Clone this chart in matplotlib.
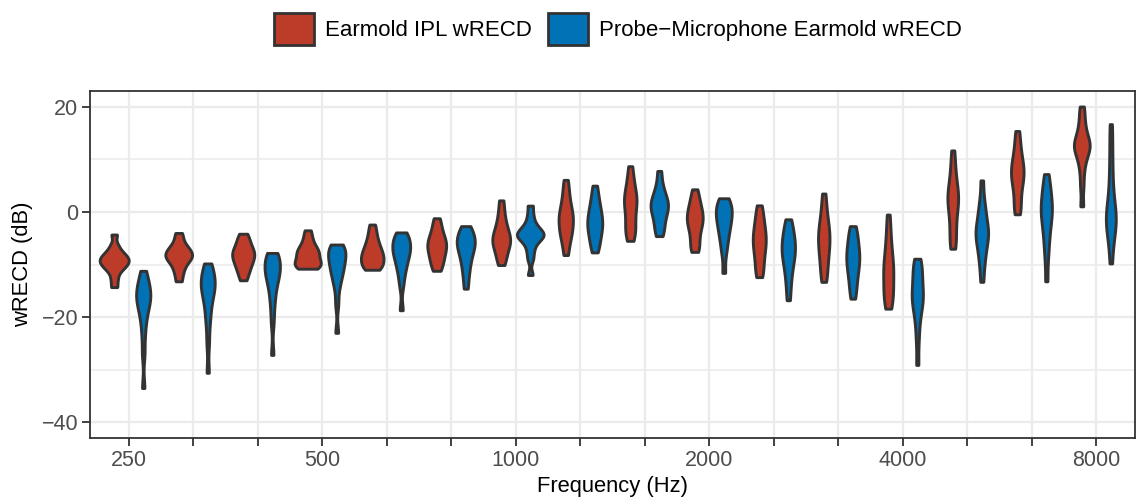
import numpy as np
import matplotlib
matplotlib.use("Agg")
import matplotlib.pyplot as plt
from matplotlib import cbook
from matplotlib.patches import Patch

plt.rcParams['font.family'] = ['Liberation Sans', 'DejaVu Sans']

frequencies = ["250", "315", "400", "500", "630", "800", "1000", "1250",
               "1600", "2000", "2500", "3150", "4000", "5000", "6300", "8000"]
labeled_ticks = ["250", "500", "1000", "2000", "4000", "8000"]
series_names = ["Earmold IPL wRECD", "Probe\u2212Microphone Earmold wRECD"]

# wRECD (dB) samples, one list per frequency
ipl_samples = [
    [-14.3, -12.8, -11.5, -10.8, -10.3, -10.0, -9.6, -9.3, -9.0, -8.7, -8.3, -7.9, -7.3, -6.3, -4.3],
    [-13.2, -11.8, -10.8, -10.0, -9.4, -9.0, -8.6, -8.3, -8.0, -7.6, -7.2, -6.8, -6.2, -5.2, -4.0],
    [-13.0, -11.8, -11.0, -10.3, -9.7, -9.2, -8.7, -8.3, -7.9, -7.5, -7.0, -6.5, -5.8, -5.0, -4.15],
    [-10.8, -10.6, -10.3, -10.0, -9.7, -9.3, -8.8, -8.3, -7.9, -7.5, -7.1, -6.6, -5.8, -4.8, -3.5],
    [-11.0, -10.7, -10.3, -9.8, -9.3, -8.9, -8.5, -8.1, -7.6, -7.1, -6.5, -5.8, -4.9, -3.8, -2.4],
    [-11.2, -10.3, -9.5, -8.8, -8.1, -7.5, -7.0, -6.5, -6.0, -5.5, -5.0, -4.3, -3.5, -2.4, -1.2],
    [-10.1, -9.0, -8.0, -7.2, -6.5, -6.0, -5.5, -5.0, -4.5, -3.9, -3.2, -2.3, -1.2, 0.3, 2.2],
    [-8.2, -6.5, -5.0, -4.3, -3.6, -2.8, -2.0, -1.4, -0.8, -0.2, 0.6, 1.6, 2.8, 4.3, 6.1],
    [-5.5, -4.5, -3.6, -2.8, -1.8, -0.6, 0.5, 1.3, 2.0, 2.6, 3.3, 4.2, 5.3, 6.8, 8.7],
    [-7.6, -6.8, -5.8, -4.5, -3.5, -2.7, -2.0, -1.5, -1.0, -0.4, 0.3, 1.0, 1.8, 2.9, 4.3],
    [-12.4, -11.5, -10.3, -9.0, -8.0, -7.1, -6.3, -5.6, -4.9, -4.2, -3.4, -2.5, -1.4, -0.2, 1.25],
    [-13.3, -12.0, -10.5, -9.2, -8.1, -7.1, -6.2, -5.4, -4.6, -3.8, -2.9, -1.9, -0.6, 1.2, 3.5],
    [-18.4, -17.6, -16.2, -15.4, -14.6, -13.3, -12.2, -11.2, -10.5, -9.6, -8.4, -7.0, -5.3, -3.2, -0.5],
    [-7.0, -6.0, -4.5, -2.8, -1.2, 0.2, 1.3, 2.1, 2.8, 3.5, 4.4, 5.6, 7.2, 9.2, 11.7],
    [-0.45, 0.6, 2.0, 3.6, 4.9, 5.8, 6.6, 7.3, 8.0, 8.7, 9.5, 10.5, 11.8, 13.5, 15.4],
    [1.06, 4.8, 7.5, 9.4, 10.6, 11.4, 12.0, 12.5, 13.0, 13.5, 14.2, 15.2, 16.5, 18.2, 20.05],
]
probe_samples = [
    [-33.5, -27.0, -23.5, -21.0, -19.5, -18.3, -17.5, -16.8, -16.2, -15.6, -15.0, -14.3, -13.5, -12.5, -11.2],
    [-30.6, -25.0, -21.5, -19.5, -17.8, -16.5, -15.5, -14.8, -14.2, -13.6, -13.0, -12.3, -11.5, -10.7, -9.8],
    [-27.2, -21.0, -18.0, -16.0, -14.5, -13.3, -12.4, -11.8, -11.3, -10.7, -10.0, -9.3, -8.7, -8.2, -7.8],
    [-23.0, -17.5, -14.5, -13.0, -12.0, -11.2, -10.5, -9.8, -9.2, -8.6, -8.0, -7.5, -7.0, -6.6, -6.2],
    [-18.7, -14.0, -12.0, -10.8, -9.8, -9.0, -8.3, -7.7, -7.2, -6.7, -6.2, -5.6, -5.0, -4.4, -3.9],
    [-14.6, -12.5, -11.0, -9.8, -8.8, -8.0, -7.3, -6.7, -6.2, -5.7, -5.2, -4.7, -4.1, -3.4, -2.7],
    [-12.0, -9.0, -7.5, -6.3, -5.5, -5.0, -4.7, -4.4, -4.1, -3.8, -3.4, -2.8, -2.0, -0.6, 1.2],
    [-7.7, -6.5, -5.5, -4.6, -3.8, -3.1, -2.5, -1.9, -1.3, -0.6, 0.2, 1.0, 2.0, 3.3, 5.0],
    [-4.6, -3.6, -2.6, -1.6, -0.8, -0.1, 0.5, 1.0, 1.5, 2.0, 2.6, 3.3, 4.2, 5.6, 7.8],
    [-11.6, -8.0, -6.3, -5.0, -4.0, -3.1, -2.3, -1.6, -1.0, -0.4, 0.2, 0.8, 1.4, 2.0, 2.6],
    [-16.8, -14.3, -12.5, -11.0, -9.9, -9.0, -8.2, -7.5, -6.8, -6.1, -5.4, -4.6, -3.7, -2.6, -1.4],
    [-16.5, -15.0, -13.6, -12.4, -11.4, -10.5, -9.7, -9.0, -8.3, -7.6, -6.8, -5.9, -4.9, -3.8, -2.7],
    [-29.1, -24.5, -21.5, -19.5, -18.2, -17.2, -16.5, -15.8, -15.0, -14.0, -12.9, -11.8, -10.7, -9.8, -8.9],
    [-13.3, -10.5, -8.8, -7.4, -6.3, -5.3, -4.6, -4.0, -3.4, -2.6, -1.6, -0.4, 0.8, 2.6, 6.0],
    [-13.2, -9.0, -6.6, -4.8, -3.3, -2.0, -1.0, -0.2, 0.5, 1.3, 2.2, 3.2, 4.3, 5.6, 7.2],
    [-9.8, -6.5, -4.5, -3.3, -2.4, -1.6, -0.9, -0.2, 0.8, 2.3, 4.3, 6.8, 9.8, 13.2, 16.7],
]
colors = ["#BC3C29", "#0072B5"]
edge = "#333333"

BW_ADJUST = 0.8


def kde_nrd0(X, coords):
    X = np.asarray(X, float)
    n = len(X)
    sd = X.std(ddof=1)
    iqr = np.subtract(*np.percentile(X, [75, 25]))
    bw = 0.9 * min(sd, iqr / 1.34) * n ** (-0.2) * BW_ADJUST
    z = (coords[:, None] - X[None, :]) / bw
    return np.exp(-0.5 * z ** 2).sum(axis=1) / (n * bw * np.sqrt(2 * np.pi))


fig = plt.figure(figsize=(11.36, 5.04), dpi=100)
ax = fig.add_axes([90 / 1136, 1 - 438 / 504, 1045 / 1136, 347 / 504])

stats_all = []
for samples in (ipl_samples, probe_samples):
    stats_all.append(cbook.violin_stats(samples, kde_nrd0, points=300))
gmax = max(max(s['vals'].max() for s in st) for st in stats_all)

dodge = 0.9
vw = dodge / 2
x = np.arange(len(frequencies))
for k, st in enumerate(stats_all):
    pos = x + (k - 0.5) * vw
    widths = [vw * s['vals'].max() / gmax for s in st]
    parts = ax.violin(st, positions=pos, widths=widths,
                      showmeans=False, showextrema=False, showmedians=False)
    for b in parts['bodies']:
        b.set_facecolor(colors[k])
        b.set_edgecolor(edge)
        b.set_linewidth(2.1)
        b.set_joinstyle('round')
        b.set_alpha(1)
        b.set_zorder(3)

ax.set_xlim(-0.6, len(frequencies) - 0.4)
ax.set_ylim(-43, 23)
ax.set_xticks(x)
ax.set_xticklabels([f if f in labeled_ticks else "" for f in frequencies])
ax.set_yticks([-40, -20, 0, 20])
ax.set_yticks([-30, -10, 10], minor=True)
ax.set_axisbelow(True)
ax.grid(True, which='major', color='#EBEBEB', linewidth=1.6, zorder=0)
ax.grid(True, which='minor', axis='y', color='#EBEBEB', linewidth=1.1, zorder=0)
ax.tick_params(axis='both', which='major', direction='out', length=5.5, width=1.3,
               color=edge, labelcolor='#4D4D4D', labelsize=15.5, pad=3)
ax.tick_params(axis='y', which='minor', length=0)
for sp in ax.spines.values():
    sp.set_color(edge)
    sp.set_linewidth(1.3)
ax.set_xlabel("Frequency (Hz)", fontsize=15.8, color='black', labelpad=4)
ax.set_ylabel("wRECD (dB)", fontsize=15.8, color='black', labelpad=6)

handles = [Patch(facecolor=c, edgecolor=edge, linewidth=2.0, label=n)
           for c, n in zip(colors, series_names)]
fig.legend(handles=handles, loc='center', bbox_to_anchor=(618 / 1136, 1 - 29 / 504),
           ncol=2, frameon=False, fontsize=16, handlelength=1.8, handleheight=1.8,
           handletextpad=0.5, columnspacing=0.7, borderpad=0)

fig.savefig("out.png", dpi=100)
